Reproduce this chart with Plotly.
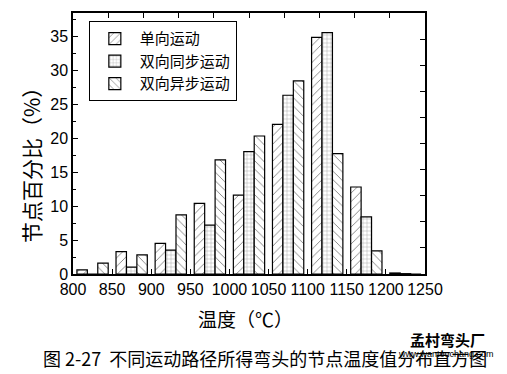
import plotly.graph_objects as go

temps = [825, 875, 925, 975, 1025, 1075, 1125, 1175, 1225]
single = [0.6, 3.3, 4.5, 10.4, 11.6, 22.0, 34.8, 12.8, 0.15]
sync = [0.0, 1.0, 3.5, 7.2, 18.0, 26.3, 35.5, 8.4, 0.05]
async_ = [1.6, 2.8, 8.7, 16.8, 20.3, 28.4, 17.7, 3.4, 0.0]
names = ["单向运动", "双向同步运动", "双向异步运动"]
x_ticks = [800, 850, 900, 950, 1000, 1050, 1100, 1150, 1200, 1250]

cjk = "Noto Sans CJK SC"
num = "Liberation Sans, Arial"

fig = go.Figure()
for name, vals, shape, size in [(names[0], single, "/", 6),
                                (names[1], sync, "+", 4),
                                (names[2], async_, "\\", 6)]:
    fig.add_trace(go.Bar(
        x=temps, y=vals, name=name,
        marker=dict(color="white", line=dict(color="black", width=1.2),
                    pattern=dict(shape=shape, size=size, solidity=0.15,
                                 fgcolor="black", bgcolor="white")),
    ))

# page body has an 8px margin, so the figure is 8px smaller and shifted
fig.update_layout(
    width=499, height=366,
    margin=dict(l=65, r=82, t=5, b=100, autoexpand=False),
    plot_bgcolor="white", paper_bgcolor="white",
    barmode="group", bargap=0.2, bargroupgap=0,
    showlegend=True,
    legend=dict(x=0.045, y=0.968, xanchor="left", yanchor="top",
                bordercolor="black", borderwidth=1, bgcolor="white",
                font=dict(family=cjk, size=15, color="black"),
                tracegroupgap=0, itemwidth=40),
    xaxis=dict(range=[800, 1250], tickvals=x_ticks, ticks="inside", ticklen=5,
               tickcolor="black", showline=True, linecolor="black", linewidth=1.5,
               showgrid=False, zeroline=False,
               tickfont=dict(family=num, size=16, color="black")),
    yaxis=dict(range=[0, 38.4], dtick=5, ticks="inside", ticklen=5,
               tickcolor="black", showline=True, linecolor="black", linewidth=1.5,
               showgrid=False, zeroline=False,
               minor=dict(dtick=2.5, ticks="inside", ticklen=3, tickcolor="black"),
               tickfont=dict(family=num, size=16, color="black")),
    xaxis2=dict(range=[0, 10], dtick=1, overlaying="x", side="top", ticks="inside",
                ticklen=5, tickcolor="black", showticklabels=False, showline=True,
                linecolor="black", linewidth=1.5, showgrid=False, zeroline=False),
    yaxis2=dict(range=[0, 10], dtick=1, overlaying="y", side="right", ticks="inside",
                ticklen=5, tickcolor="black", showticklabels=False, showline=True,
                linecolor="black", linewidth=1.5, showgrid=False, zeroline=False),
)
# invisible trace to activate top/right frame axes
fig.add_trace(go.Scatter(x=[0, 10], y=[0, 10], xaxis="x2", yaxis="y2",
                         mode="markers", marker=dict(opacity=0), showlegend=False,
                         hoverinfo="skip"))

fig.add_annotation(text="温度（℃）", xref="paper", yref="paper", x=0.489, y=-0.169,
                   xanchor="center", yanchor="middle", showarrow=False,
                   font=dict(family=cjk, size=19, color="black"))
fig.add_annotation(text="节点百分比（%）", xref="paper", yref="paper", x=-0.119, y=0.437,
                   xanchor="center", yanchor="middle", showarrow=False, textangle=-90,
                   font=dict(family=cjk, size=21, color="black"))
fig.add_annotation(text="图 2-27  不同运动路径所得弯头的节点温度值分布直方图",
                   xref="paper", yref="paper", x=0.545, y=-0.322, xanchor="center",
                   yanchor="middle", showarrow=False,
                   font=dict(family=cjk, size=18, color="black"))
fig.add_annotation(text="<b>孟村弯头厂</b>", xref="paper", yref="paper",
                   x=1.065, y=-0.25, xanchor="center", yanchor="middle",
                   showarrow=False, font=dict(family=cjk, size=15, color="black"))
fig.add_annotation(text="www.wantouchang.com", xref="paper", yref="paper",
                   x=1.06, y=-0.305, xanchor="center", yanchor="middle",
                   showarrow=False, font=dict(family=num, size=9, color="black"))

fig.write_html("out.html")
